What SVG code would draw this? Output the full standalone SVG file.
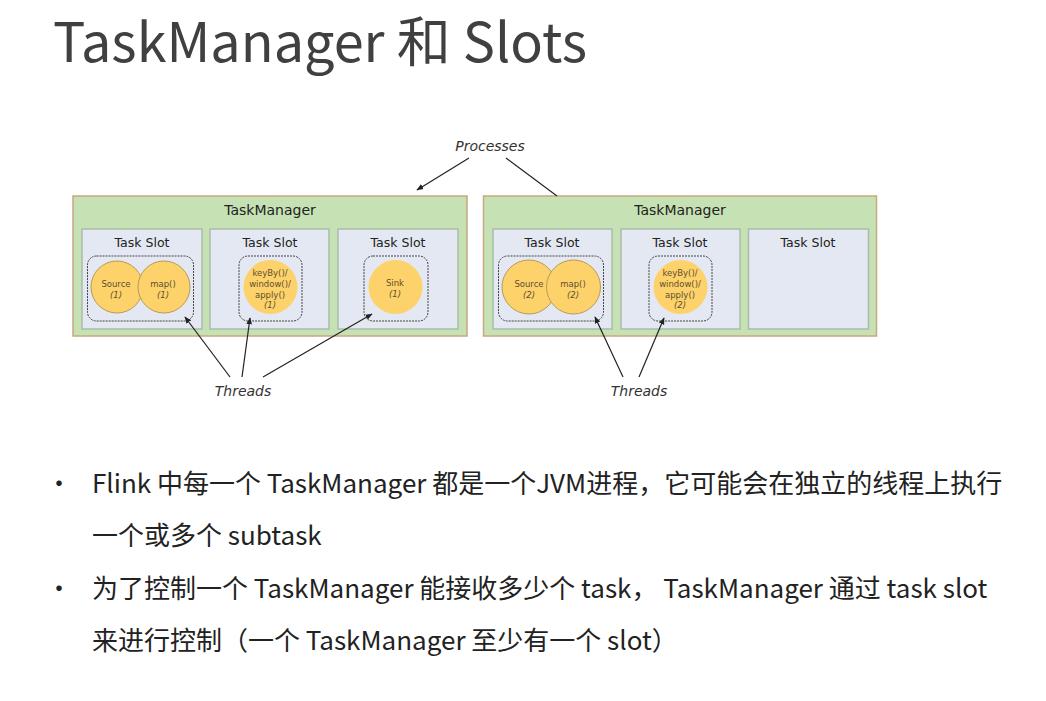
<svg xmlns="http://www.w3.org/2000/svg" width="1046" height="701" viewBox="0 0 1046 701">
<defs>
<marker id="ah" viewBox="0 0 10 10" refX="9" refY="5" markerWidth="7" markerHeight="7" orient="auto" markerUnits="userSpaceOnUse">
<path d="M0,1 L10,5 L0,9 z" fill="#222"/>
</marker>
</defs>
<style>
.title{font-family:"Noto Sans CJK SC","Noto Sans",sans-serif;font-size:54px;fill:#404040}
.bul{font-family:"Noto Sans CJK SC","Noto Sans",sans-serif;font-size:26px;fill:#222}
.tm{fill:#c6e2b4;stroke:#c9a77f;stroke-width:1.5}
.slot{fill:#e4e8f2;stroke:#a9bca9;stroke-width:1.5}
.dash{fill:none;stroke:#444;stroke-width:1;stroke-dasharray:2,1}
.op{fill:#fdd26b;stroke:#b89a5a;stroke-width:1}
.op2{fill:#fdd26b;stroke:none}
.lbl{font-family:"DejaVu Sans",Verdana,sans-serif;font-size:14px;fill:#222;text-anchor:middle}
.sl{font-family:"DejaVu Sans",Verdana,sans-serif;font-size:12.5px;fill:#222;text-anchor:middle}
.ot{font-family:"DejaVu Sans",Verdana,sans-serif;font-size:8.5px;fill:#5e4e2e;text-anchor:middle}
.oi{font-style:italic}
.it{font-family:"DejaVu Sans",Verdana,sans-serif;font-size:14px;font-style:italic;fill:#333;text-anchor:middle}
.ln{stroke:#222;stroke-width:1.2;fill:none}
</style>
<rect width="1046" height="701" fill="#fff"/>
<text class="title" x="53" y="62">TaskManager 和 Slots</text>

<g id="tm1">
<rect class="tm" x="73" y="196" width="394" height="140"/>
<text class="lbl" x="270" y="215">TaskManager</text>
<g id="tm1-slot1">
<rect class="slot" x="82" y="229" width="120" height="100"/>
<text class="sl" x="142" y="247">Task Slot</text>
<rect class="dash" x="87.5" y="256" width="106" height="65" rx="9"/>
<circle class="op" cx="117" cy="287" r="26"/>
<circle class="op" cx="164" cy="287" r="26"/>
<text class="ot" x="116" y="287">Source</text>
<text class="ot oi" x="116" y="298">(1)</text>
<text class="ot" x="163" y="287">map()</text>
<text class="ot oi" x="163" y="298">(1)</text>
</g>
<g id="tm1-slot2">
<rect class="slot" x="210" y="229" width="119" height="100"/>
<text class="sl" x="270" y="247">Task Slot</text>
<rect class="dash" x="239" y="256" width="63" height="65" rx="9"/>
<circle class="op2" cx="270.5" cy="287" r="27"/>
<text class="ot" x="270" y="276">keyBy()/</text>
<text class="ot" x="270" y="287">window()/</text>
<text class="ot" x="270" y="298">apply()</text>
<text class="ot oi" x="270" y="308">(1)</text>
</g>
<g id="tm1-slot3">
<rect class="slot" x="338" y="229" width="120" height="100"/>
<text class="sl" x="398" y="247">Task Slot</text>
<rect class="dash" x="364" y="256" width="64" height="65" rx="9"/>
<circle class="op2" cx="395.5" cy="287" r="27"/>
<text class="ot" x="395" y="286">Sink</text>
<text class="ot oi" x="395" y="297">(1)</text>
</g>
</g>

<g id="tm2">
<rect class="tm" x="483.5" y="196" width="393" height="140"/>
<text class="lbl" x="680" y="215">TaskManager</text>
<g id="tm2-slot1">
<rect class="slot" x="493" y="229" width="119" height="100"/>
<text class="sl" x="552" y="247">Task Slot</text>
<rect class="dash" x="498.5" y="256" width="105" height="65" rx="9"/>
<circle class="op" cx="529" cy="287" r="27"/>
<circle class="op" cx="573.5" cy="287" r="27"/>
<text class="ot" x="529" y="287">Source</text>
<text class="ot oi" x="529" y="298">(2)</text>
<text class="ot" x="573" y="287">map()</text>
<text class="ot oi" x="573" y="298">(2)</text>
</g>
<g id="tm2-slot2">
<rect class="slot" x="621" y="229" width="119" height="100"/>
<text class="sl" x="680" y="247">Task Slot</text>
<rect class="dash" x="649" y="256" width="63" height="65" rx="9"/>
<circle class="op2" cx="680.5" cy="287" r="27"/>
<text class="ot" x="680" y="276">keyBy()/</text>
<text class="ot" x="680" y="287">window()/</text>
<text class="ot" x="680" y="298">apply()</text>
<text class="ot oi" x="680" y="308">(2)</text>
</g>
<g id="tm2-slot3">
<rect class="slot" x="748.5" y="229" width="120" height="100"/>
<text class="sl" x="808" y="247">Task Slot</text>
</g>
</g>

<g id="processes">
<text class="it" x="490" y="151">Processes</text>
</g>
<g id="threads1">
<text class="it" x="243" y="396">Threads</text>
</g>
<g id="threads2">
<text class="it" x="639" y="396">Threads</text>
</g>

<g id="connectors">
<line class="ln" x1="469" y1="158" x2="417" y2="190" marker-end="url(#ah)"/>
<line class="ln" x1="506" y1="158" x2="557" y2="196"/>
<line class="ln" x1="230" y1="377" x2="185" y2="317" marker-end="url(#ah)"/>
<line class="ln" x1="242" y1="377" x2="250" y2="318" marker-end="url(#ah)"/>
<line class="ln" x1="263" y1="377" x2="372" y2="314" marker-end="url(#ah)"/>
<line class="ln" x1="623" y1="377" x2="595" y2="317" marker-end="url(#ah)"/>
<line class="ln" x1="639" y1="377" x2="664" y2="318" marker-end="url(#ah)"/>
</g>

<g id="bullets">
<text class="bul" x="46" y="493">•</text>
<text class="bul" x="92" y="493">Flink 中每一个 TaskManager 都是一个JVM进程，它可能会在独立的线程上执行</text>
<text class="bul" x="92" y="545">一个或多个 subtask</text>
<text class="bul" x="46" y="598">•</text>
<text class="bul" x="92" y="598">为了控制一个 TaskManager 能接收多少个 task， TaskManager 通过 task slot</text>
<text class="bul" x="92" y="650">来进行控制（一个 TaskManager 至少有一个 slot）</text>
</g>
</svg>
